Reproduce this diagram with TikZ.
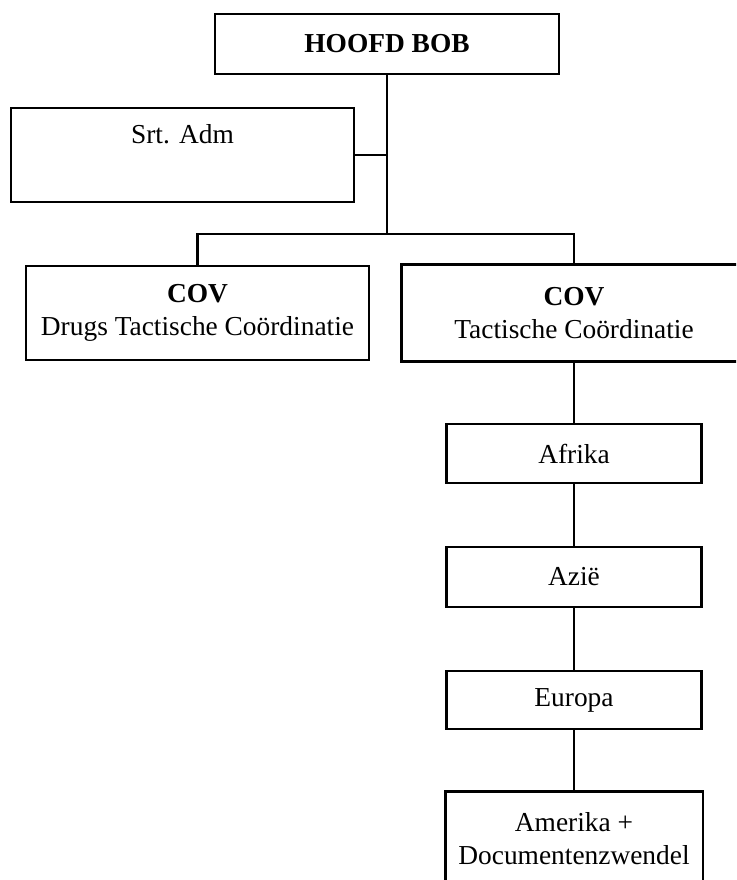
\documentclass[tikz,border=0pt]{standalone}
\usepackage{fontspec}
\setmainfont{Liberation Serif}
\begin{document}
\begin{tikzpicture}[x=1pt,y=-1pt,
  box/.style={draw, line width=2.8pt, inner sep=0pt, align=center,
    font=\fontsize{27.4}{33}\selectfont},
  openbox/.style={box, draw=none},
  conn/.style={line width=2.8pt}]
\useasboundingbox (0,0) rectangle (736,880);
\clip (0,0) rectangle (736,880);
\node[box, minimum width=344pt, minimum height=60pt] (hoofd) at (387,44) {\textbf{HOOFD BOB}};
\node[box, minimum width=343pt, minimum height=94pt] (srt) at (182.5,155) {Srt. Adm\\ \strut};
\node[box, minimum width=343pt, minimum height=94pt] (covl) at (197.5,313) {\textbf{COV}\\Drugs Tactische Coördinatie};
\node[openbox, minimum width=342pt, minimum height=94pt] (covr) at (574,313) {\textbf{COV}\\Tactische Coördinatie};
\draw[conn] (covr.north east) -- (covr.north west) -- (covr.south west) -- (covr.south east);
\node[box, minimum width=255pt, minimum height=59pt] (afrika) at (574,453.5) {Afrika};
\node[box, minimum width=255pt, minimum height=60pt] (azie) at (574,577) {Azië};
\node[box, minimum width=255pt, minimum height=58pt] (europa) at (574,700) {Europa};
\node[openbox, minimum width=255pt, minimum height=92pt] (amerika) at (574,839) {Amerika +\\Documentenzwendel};
\draw[conn] (amerika.south west) -- (amerika.north west) -- (amerika.north east) -- (amerika.south east);
\coordinate (j) at (387,234);
\draw[conn] (hoofd.south) -- (j);
\draw[conn] (srt.east) -- (srt.east -| hoofd.south);
\draw[conn] (covl.north) -- (covl.north |- j) -- (covr.north |- j) -- (covr.north);
\draw[conn] (covr.south) -- (afrika.north);
\draw[conn] (afrika.south) -- (azie.north);
\draw[conn] (azie.south) -- (europa.north);
\draw[conn] (europa.south) -- (amerika.north);
\end{tikzpicture}
\end{document}
